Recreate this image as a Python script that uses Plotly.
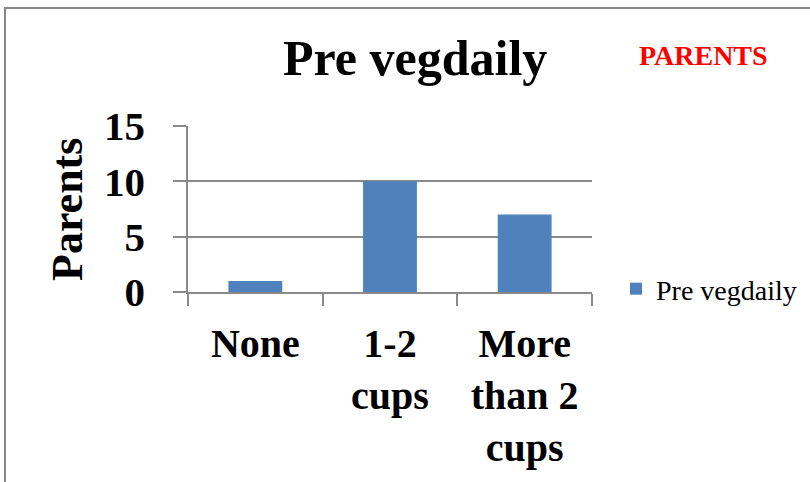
import plotly.graph_objects as go

categories = ["None", "1-2 cups", "More than 2 cups"]
tick_labels = ["None", "1-2<br>cups", "More<br>than 2<br>cups"]
values = [1, 10, 7]
series_name = "Pre vegdaily"
chart_title = "Pre vegdaily"
y_title = "Parents"
corner_label = "PARENTS"
y_ticks = [0, 5, 10, 15]

W, H = 810, 482
L, R, T, B = 188, 592, 126, 292  # plot area in pixels

def px(x):
    return (x - L) / (R - L)

def py(y):
    return (B - y) / (B - T)

FONT = "Liberation Serif"
GRID = "#8a8a8a"

fig = go.Figure()
fig.add_trace(go.Bar(
    x=categories, y=values, name=series_name,
    marker=dict(color="#4F81BD", line=dict(width=0)),
    width=0.4, showlegend=True,
))

fig.update_layout(
    width=W, height=H,
    margin=dict(l=L, r=W - R, t=T, b=H - B, autoexpand=False),
    paper_bgcolor="white", plot_bgcolor="white",
    font=dict(family=FONT, color="black"),
    showlegend=True,
    legend=dict(x=px(616), y=py(289), xanchor="left", yanchor="middle",
                font=dict(size=28, family=FONT, color="black"),
                bgcolor="rgba(0,0,0,0)", itemwidth=30),
)

fig.update_xaxes(
    type="category", tickmode="array", tickvals=categories,
    ticktext=["<b>%s</b>" % t for t in tick_labels],
    tickson="boundaries", ticks="outside", ticklen=12, tickwidth=1.5, tickcolor=GRID,
    showline=True, linecolor=GRID, linewidth=1.5, showgrid=False,
    tickfont=dict(size=40, family=FONT, color="black"), tickangle=0,
    ticklabelstandoff=15,
)
fig.update_yaxes(
    range=[0, 15], tickvals=y_ticks, ticktext=["<b>%d</b>" % v for v in y_ticks],
    ticks="outside", ticklen=13, tickwidth=1.5, tickcolor=GRID,
    showline=True, linecolor=GRID, linewidth=1.5,
    showgrid=True, gridcolor=GRID, gridwidth=1.5, zeroline=False,
    tickfont=dict(size=41, family=FONT, color="black"),
    ticklabelstandoff=20,
)

fig.add_annotation(text="<b>%s</b>" % chart_title,
                   xref="paper", yref="paper", x=px(415), y=py(58),
                   xanchor="center", yanchor="middle", showarrow=False,
                   font=dict(size=50, family=FONT, color="black"))
fig.add_annotation(text="<b>%s</b>" % y_title, textangle=-90,
                   xref="paper", yref="paper", x=px(67), y=py(210),
                   xanchor="center", yanchor="middle", showarrow=False,
                   font=dict(size=44, family=FONT, color="black"))
fig.add_annotation(text="<b>%s</b>" % corner_label,
                   xref="paper", yref="paper", x=px(703), y=py(55),
                   xanchor="center", yanchor="middle", showarrow=False,
                   font=dict(size=28, family=FONT, color="#FF0000"))
fig.add_shape(type="rect", xref="paper", yref="paper",
              x0=px(5), x1=px(812), y0=py(520), y1=py(8),
              line=dict(color="#888888", width=2), fillcolor="rgba(0,0,0,0)", layer="below")

fig.write_html("out.html", config={"displayModeBar": False},
               post_script="document.body.style.margin='0';document.body.style.overflow='hidden';")
